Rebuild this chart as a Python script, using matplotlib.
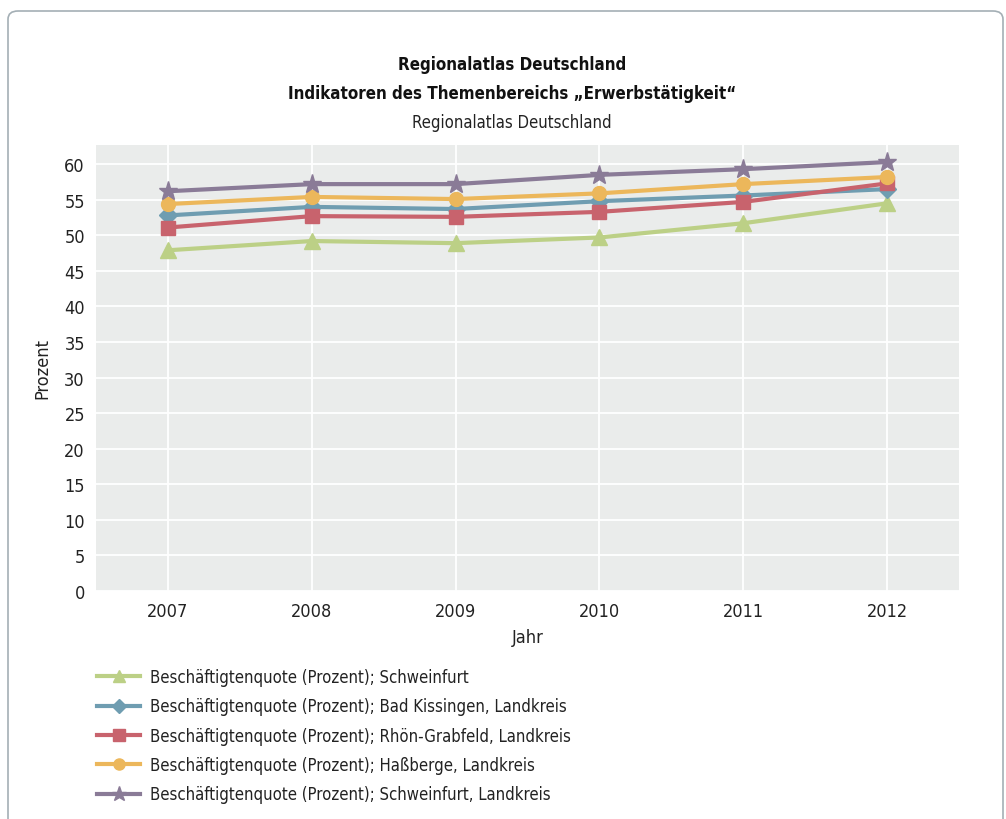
import numpy as np
from matplotlib import pyplot
from matplotlib.patches import FancyBboxPatch

pyplot.rcParams['font.family'] = ['DejaVu Sans']
pyplot.rcParams['font.stretch'] = 'condensed'

years = ['2007', '2008', '2009', '2010', '2011', '2012']
schweinfurt = [47.9, 49.2, 48.9, 49.7, 51.7, 54.5]
bad_kissingen = [52.8, 54.0, 53.7, 54.8, 55.6, 56.5]
rhoen_grabfeld = [51.1, 52.7, 52.6, 53.3, 54.7, 57.3]
hassberge = [54.4, 55.4, 55.1, 55.9, 57.2, 58.2]
schweinfurt_lk = [56.2, 57.2, 57.2, 58.5, 59.3, 60.3]

labels = ['Beschäftigtenquote (Prozent); Schweinfurt',
          'Beschäftigtenquote (Prozent); Bad Kissingen, Landkreis',
          'Beschäftigtenquote (Prozent); Rhön-Grabfeld, Landkreis',
          'Beschäftigtenquote (Prozent); Haßberge, Landkreis',
          'Beschäftigtenquote (Prozent); Schweinfurt, Landkreis']
series = [schweinfurt, bad_kissingen, rhoen_grabfeld, hassberge, schweinfurt_lk]
colors = ['#bcd086', '#6f9db1', '#c8636d', '#ecb75b', '#8a7b97']
markers = ['^', 'D', 's', 'o', '*']
msizes = [11, 9.5, 10.5, 10, 14]

fig = pyplot.figure(figsize=(10.06, 8.2), dpi=100)
# outer frame
frame = FancyBboxPatch((8 / 1006, -0.05), 995 / 1006, 1.05 - 12 / 820,
                       boxstyle='round,pad=0,rounding_size=0.01', transform=fig.transFigure,
                       facecolor='white', edgecolor='#a4afb5', linewidth=1.2, zorder=-10)
fig.patches.append(frame)

ax = fig.add_axes([96 / 1006, 1 - 592 / 820, (959 - 96) / 1006, (592 - 146) / 820])
ax.set_facecolor('#eaeceb')
x = np.arange(len(years))
for vals, c, m, ms, lab in zip(series, colors, markers, msizes, labels):
    ax.plot(x, vals, color=c, marker=m, markersize=ms, linewidth=3, label=lab,
            markeredgecolor=c, zorder=3)

ax.set_xlim(-0.5, 5.5)
ax.set_ylim(0, 62.7)
ax.set_xticks(x)
ax.set_xticklabels(years)
ax.set_yticks(np.arange(0, 61, 5))
ax.grid(True, color='white', linewidth=1.3)
ax.set_axisbelow(True)
for s in ax.spines.values():
    s.set_visible(False)
ax.tick_params(length=0, labelsize=13, labelcolor='#222222', pad=8)
ax.set_xlabel('Jahr', fontsize=13, color='#222222', labelpad=6)
ax.set_ylabel('Prozent', fontsize=13, color='#222222', labelpad=9)

fig.text(512 / 1006, 1 - 65 / 820, 'Regionalatlas Deutschland', ha='center', va='center',
         fontsize=12.2, fontweight='bold', color='#111111')
fig.text(512 / 1006, 1 - 94 / 820, 'Indikatoren des Themenbereichs „Erwerbstätigkeit“', ha='center',
         va='center', fontsize=12.2, fontweight='bold', color='#111111')
fig.text(512 / 1006, 1 - 123 / 820, 'Regionalatlas Deutschland', ha='center', va='center',
         fontsize=12, color='#222222')

fig.legend(loc='upper left', bbox_to_anchor=(82 / 1006, 1 - 654 / 820), frameon=False,
           fontsize=12, handlelength=2.6, handletextpad=0.6, labelspacing=0.68, markerscale=0.8,
           labelcolor='#222222')

pyplot.savefig('out.png', dpi=100)
